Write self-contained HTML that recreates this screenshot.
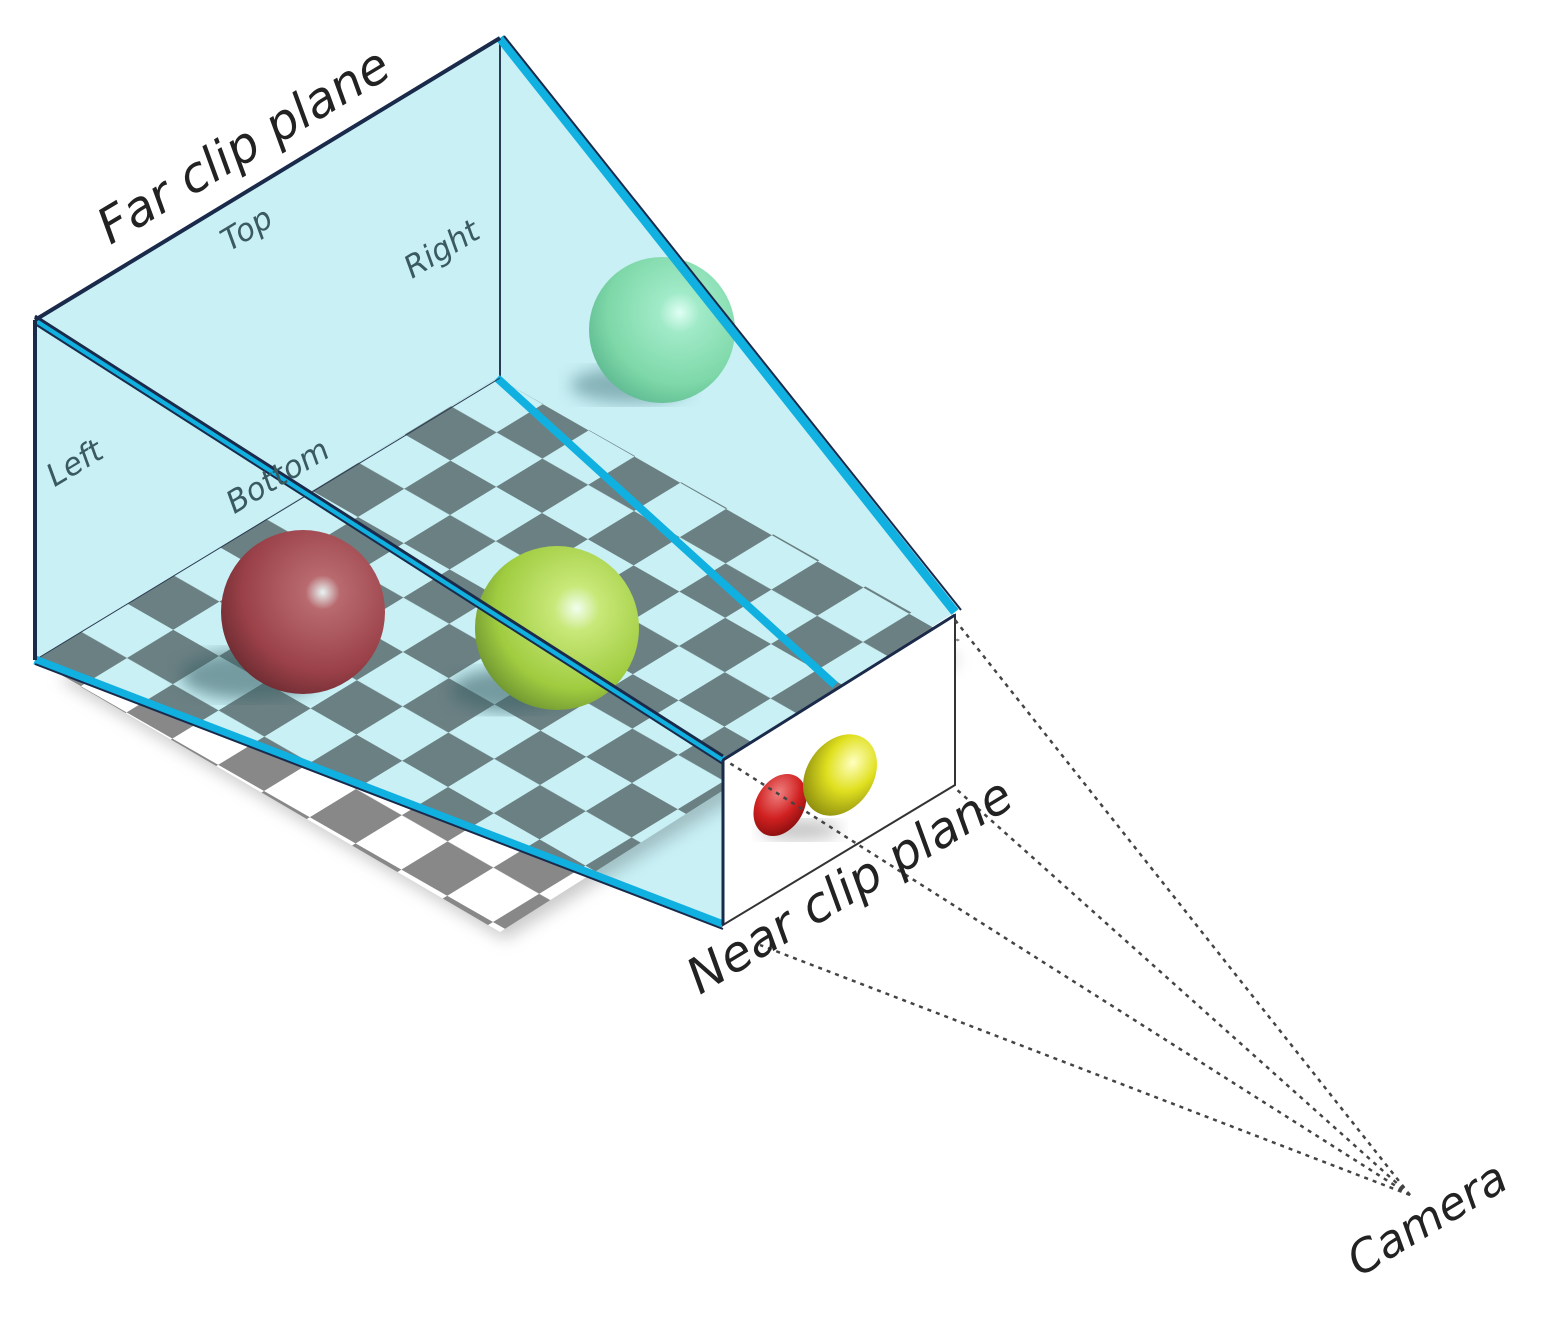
<!DOCTYPE html>
<html><head><meta charset="utf-8"><style>
html,body{margin:0;padding:0;background:#fff;}
svg{display:block;}
text{font-family:"DejaVu Sans","Liberation Sans",sans-serif;font-style:italic;fill:#222;}
</style></head><body>
<svg width="1565" height="1328" viewBox="0 0 1565 1328" xmlns="http://www.w3.org/2000/svg">
<defs>
<pattern id="chk" patternUnits="userSpaceOnUse" width="2" height="2" patternTransform="matrix(46.2,-28.2,45.8,26.2,35,660)">
<rect x="0" y="0" width="2" height="2" fill="#ffffff"/>
<rect x="0" y="0" width="1" height="1" fill="#888888"/>
<rect x="1" y="1" width="1" height="1" fill="#888888"/>
</pattern>
<clipPath id="floor"><polygon points="35,660 497,378 960,640 500,932"/></clipPath>
<radialGradient id="gr" cx="0.62" cy="0.38" r="0.7"><stop offset="0" stop-color="#e8f4f4"/><stop offset="0.15" stop-color="#b86a6e"/><stop offset="0.7" stop-color="#9a4048"/><stop offset="1" stop-color="#6a2a30"/></radialGradient>
<radialGradient id="gy" cx="0.62" cy="0.38" r="0.7"><stop offset="0" stop-color="#f0fff0"/><stop offset="0.2" stop-color="#c8e878"/><stop offset="0.7" stop-color="#a0cc40"/><stop offset="1" stop-color="#6a9030"/></radialGradient>
<radialGradient id="gg" cx="0.62" cy="0.38" r="0.7"><stop offset="0" stop-color="#e0fff4"/><stop offset="0.2" stop-color="#a0eac8"/><stop offset="0.7" stop-color="#7ed8a8"/><stop offset="1" stop-color="#5cb890"/></radialGradient>
<radialGradient id="sr" cx="0.35" cy="0.35" r="0.7"><stop offset="0" stop-color="#f08080"/><stop offset="0.6" stop-color="#d02020"/><stop offset="1" stop-color="#901010"/></radialGradient>
<radialGradient id="sy" cx="0.55" cy="0.3" r="0.7"><stop offset="0" stop-color="#ffffc0"/><stop offset="0.5" stop-color="#e0e020"/><stop offset="1" stop-color="#909010"/></radialGradient>
<filter id="blur"><feGaussianBlur stdDeviation="8"/></filter>
</defs>
<polygon points="60,680 497,400 960,660 505,940" fill="#999" opacity="0.5" filter="url(#blur)"/>
<rect x="0" y="0" width="1565" height="1328" fill="url(#chk)" clip-path="url(#floor)"/>
<polygon points="35,320 500,38 955,612 723,760 723,925 35,660" fill="#c8f0f5" style="mix-blend-mode:multiply"/>
<line x1="500" y1="38" x2="500" y2="378" stroke="#2a3a50" stroke-width="2"/>
<ellipse cx="250" cy="675" rx="70" ry="25" fill="#3e6468" opacity="0.6" filter="url(#blur)"/>
<ellipse cx="510" cy="690" rx="60" ry="22" fill="#3e6468" opacity="0.6" filter="url(#blur)"/>
<ellipse cx="630" cy="385" rx="60" ry="18" fill="#5a8a90" opacity="0.6" filter="url(#blur)"/>
<circle cx="303" cy="612" r="82" fill="url(#gr)"/>
<circle cx="557" cy="628" r="82" fill="url(#gy)"/>
<circle cx="662" cy="330" r="73" fill="url(#gg)"/>
<line x1="497" y1="378" x2="835" y2="685" stroke="#10b0e0" stroke-width="8"/>
<line x1="35" y1="660" x2="500" y2="378" stroke="#2a3a50" stroke-width="1"/>
<line x1="35" y1="320" x2="723" y2="760" stroke="#10b0e0" stroke-width="8"/>
<line x1="35" y1="320" x2="723" y2="760" stroke="#1a2a4a" stroke-width="3" transform="translate(0,-4)"/>
<line x1="35" y1="320" x2="723" y2="760" stroke="#1a2a4a" stroke-width="2" transform="translate(0,4)"/>
<line x1="500" y1="38" x2="955" y2="612" stroke="#10b0e0" stroke-width="9"/>
<line x1="500" y1="38" x2="957" y2="612" stroke="#1a2a4a" stroke-width="2" transform="translate(4,-2)"/>
<line x1="35" y1="660" x2="723" y2="925" stroke="#10b0e0" stroke-width="9"/>
<line x1="35" y1="664" x2="723" y2="929" stroke="#1a2a4a" stroke-width="2"/>
<line x1="35" y1="320" x2="500" y2="38" stroke="#1a2a4a" stroke-width="4"/>
<line x1="35" y1="320" x2="35" y2="660" stroke="#1a2a4a" stroke-width="4"/>
<polygon points="723,760 955,615 955,785 723,925" fill="#fff" stroke="#333" stroke-width="2"/>
<line x1="723" y1="760" x2="955" y2="615" stroke="#1a2a4a" stroke-width="3"/>
<line x1="723" y1="760" x2="723" y2="925" stroke="#1a2a4a" stroke-width="3"/>
<ellipse cx="800" cy="830" rx="40" ry="10" fill="#888" opacity="0.5" filter="url(#blur)"/>
<ellipse cx="780" cy="805" rx="24" ry="33" fill="url(#sr)" transform="rotate(30 780 805)"/>
<ellipse cx="840" cy="775" rx="33" ry="44" fill="url(#sy)" transform="rotate(35 840 775)"/>
<g stroke="#444" stroke-width="2.5" stroke-dasharray="4,5" fill="none">
<line x1="1410" y1="1195" x2="955" y2="620"/>
<line x1="1410" y1="1195" x2="955" y2="788"/>
<line x1="1410" y1="1195" x2="760" y2="945"/>
<line x1="1410" y1="1195" x2="728" y2="762"/>
</g>
<text x="252" y="160" font-size="49" text-anchor="middle" transform="rotate(-31 252 160)">Far clip plane</text>
<text x="252" y="238" font-size="31" text-anchor="middle" transform="rotate(-31 252 238)" style="fill:#3a5a60">Top</text>
<text x="447" y="258" font-size="31" text-anchor="middle" transform="rotate(-31 447 258)" style="fill:#3a5a60">Right</text>
<text x="80" y="472" font-size="31" text-anchor="middle" transform="rotate(-31 80 472)" style="fill:#3a5a60">Left</text>
<text x="283" y="485" font-size="31" text-anchor="middle" transform="rotate(-31 283 485)" style="fill:#3a5a60">Bottom</text>
<text x="858" y="900" font-size="49" text-anchor="middle" transform="rotate(-31 858 900)">Near clip plane</text>
<text x="1435" y="1232" font-size="45" text-anchor="middle" transform="rotate(-31 1435 1232)">Camera</text>
</svg>
</body></html>
